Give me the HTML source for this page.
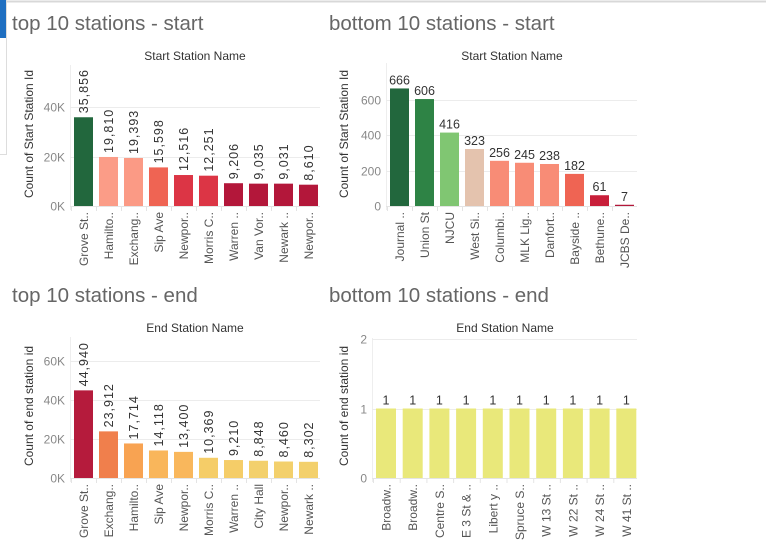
<!DOCTYPE html>
<html><head><meta charset="utf-8">
<style>
html,body{margin:0;padding:0;background:#fff;}
svg{display:block;font-family:"Liberation Sans","DejaVu Sans",sans-serif;}
</style></head>
<body>
<svg id="root" width="766" height="555" viewBox="0 0 766 555">
  <rect x="0" y="0" width="766" height="555" fill="#fff"/>
  <line x1="0" y1="1.5" x2="766" y2="1.5" stroke="#d8d8d8" stroke-width="2"/>
  <rect x="0" y="0" width="6" height="38" fill="#1f6fc1"/>
  <line x1="6.5" y1="0" x2="6.5" y2="154" stroke="#ddd"/>
  <line x1="0" y1="154.5" x2="7" y2="154.5" stroke="#ddd"/>
  <text x="12" y="30" font-size="20.5" fill="#666">top 10 stations - start</text>
  <text x="329" y="30" font-size="20.5" fill="#666">bottom 10 stations - start</text>
  <text x="12" y="302" font-size="20.5" fill="#666">top 10 stations - end</text>
  <text x="329" y="302" font-size="20.5" fill="#666">bottom 10 stations - end</text>
</svg>
<script>
// Chart 1: top 10 start
const c1Categories = ["Grove St..","Hamilto..","Exchang..","Sip Ave","Newpor..","Morris C..","Warren ..","Van Vor..","Newark ..","Newpor.."];
const c1Values = [35856,19810,19393,15598,12516,12251,9206,9035,9031,8610];
const c1Colors = ["#22673d","#fb9c87","#fb9a85","#ef6453","#dc3545","#dc3545","#b3173a","#b3173a","#b3173a","#b3173a"];
const c1Ticks = [0,20000,40000];
const c1TickLabels = ["0K","20K","40K"];
// Chart 2: bottom 10 start
const c2Categories = ["Journal ..","Union St","NJCU","West Si..","Columbi..","MLK Lig..","Danfort..","Bayside ..","Bethune..","JCBS De.."];
const c2Values = [666,606,416,323,256,245,238,182,61,7];
const c2Colors = ["#22673d","#2e8345","#80c672","#e4c3ae","#f88c76","#f88c76","#f88c76","#ef6453","#c81f3a","#b3173a"];
const c2Ticks = [0,200,400,600];
const c2TickLabels = ["0","200","400","600"];
// Chart 3: top 10 end
const c3Categories = ["Grove St..","Exchang..","Hamilto..","Sip Ave","Newpor..","Morris C..","Warren ..","City Hall","Newpor..","Newark .."];
const c3Values = [44940,23912,17714,14118,13400,10369,9210,8848,8460,8302];
const c3Colors = ["#b51b3c","#f07f4c","#f8a352","#f9b65b","#f9b75c","#f5cd68","#f5cd68","#f3d06c","#f3d06c","#f3d06c"];
const c3Ticks = [0,20000,40000,60000];
const c3TickLabels = ["0K","20K","40K","60K"];
// Chart 4: bottom 10 end
const c4Categories = ["Broadw..","Broadw..","Centre S..","E 3 St & ..","Libert y ..","Spruce S..","W 13 St ..","W 22 St ..","W 24 St ..","W 41 St .."];
const c4Values = [1,1,1,1,1,1,1,1,1,1];
const c4Colors = ["#e9e87a","#e9e87a","#e9e87a","#e9e87a","#e9e87a","#e9e87a","#e9e87a","#e9e87a","#e9e87a","#e9e87a"];
const c4Ticks = [0,1,2];
const c4TickLabels = ["0","1","2"];

const NS = "http://www.w3.org/2000/svg";
const root = document.getElementById('root');
function mk(tag, attrs, parent){
  const e = document.createElementNS(NS, tag);
  for (const k in attrs) e.setAttribute(k, attrs[k]);
  (parent||root).appendChild(e);
  return e;
}
function fmt(v){ return v.toLocaleString('en-US'); }

function drawChart(cfg, cats, vals, cols, ticks, tickLabels){
  const g = mk('g', {});
  
  
  const y = v => cfg.zero - (v - 0) * cfg.pxPerUnit;
  const x = i => cfg.barX0 + i * cfg.step;
  const st = mk('text', {x: cfg.subX, y: cfg.subY, 'font-size': 12, fill: '#333', 'text-anchor': 'middle'}, g);
  st.textContent = cfg.subtitle;
  
  
  const yt = mk('text', {x: 0, y: 0, 'font-size': 12, fill: '#333', 'text-anchor': 'middle', transform: `translate(${cfg.yTitleX},${cfg.yTitleY}) rotate(-90)`}, g);
  yt.textContent = cfg.yTitle;
  
  
  mk('line', {x1: cfg.left + 0.5, y1: cfg.top, x2: cfg.left + 0.5, y2: cfg.zero + 4, stroke: '#eee'}, g);
  ticks.forEach((t, i) => {
    const yy = Math.round(y(t)) + 0.5;
    if (t !== 0) mk('line', {x1: cfg.left, y1: yy, x2: cfg.right, y2: yy, stroke: '#ececec'}, g);
    const tl = mk('text', {x: cfg.left - 5, y: yy + 4, 'font-size': 12, fill: '#888', 'text-anchor': 'end'}, g);
    tl.textContent = tickLabels[i];
    
    
  });
  mk('line', {x1: cfg.left, y1: cfg.zero + 0.5, x2: cfg.right, y2: cfg.zero + 0.5, stroke: '#e4e4e4'}, g);
  vals.forEach((v, i) => {
    const bx = x(i), by = y(v);
    const r = mk('rect', {x: bx, y: by, width: cfg.barW, height: cfg.zero - by, fill: cols[i]}, g);
    
    
    const cx = bx + cfg.barW / 2;
    let vl;
    if (cfg.rotValues) {
      vl = mk('text', {x: 0, y: 0, 'font-size': 12.5, fill: '#333', 'text-anchor': 'start', transform: `translate(${cx + 4.5},${by - 4}) rotate(-90)`, 'letter-spacing': '1'}, g);
    } else {
      vl = mk('text', {x: cx, y: by - 4, 'font-size': 12.5, fill: '#333', 'text-anchor': 'middle'}, g);
    }
    vl.textContent = fmt(v);
    
    
    mk('line', {x1: bx - 3 + 0.5, y1: cfg.zero, x2: bx - 3 + 0.5, y2: cfg.zero + 5, stroke: '#e4e4e4'}, g);
    const cl = mk('text', {x: 0, y: 0, 'font-size': 12, fill: '#555', 'text-anchor': 'end', transform: `translate(${cx + 4.5},${cfg.zero + 6}) rotate(-90)`}, g);
    cl.textContent = cats[i];
    
    
  });
}

drawChart({name:'chart-top-start', subtitle:'Start Station Name', subX:195, subY:60, yTitle:'Count of Start Station Id', yTitleX:33, yTitleY:134,
  left:70, right:320, top:65, zero:206, pxPerUnit:49.5/20000, barX0:74, step:25, barW:19, rotValues:true},
  c1Categories, c1Values, c1Colors, c1Ticks, c1TickLabels);
drawChart({name:'chart-bottom-start', subtitle:'Start Station Name', subX:512, subY:60, yTitle:'Count of Start Station Id', yTitleX:348, yTitleY:134,
  left:386, right:637, top:63, zero:206, pxPerUnit:35.3/200, barX0:390, step:25, barW:19, rotValues:false},
  c2Categories, c2Values, c2Colors, c2Ticks, c2TickLabels);
drawChart({name:'chart-top-end', subtitle:'End Station Name', subX:195, subY:332, yTitle:'Count of end station id', yTitleX:33, yTitleY:406,
  left:70, right:320, top:337, zero:478, pxPerUnit:39/20000, barX0:74, step:25, barW:19, rotValues:true},
  c3Categories, c3Values, c3Colors, c3Ticks, c3TickLabels);
drawChart({name:'chart-bottom-end', subtitle:'End Station Name', subX:505, subY:332, yTitle:'Count of end station id', yTitleX:348, yTitleY:406,
  left:372, right:637, top:338, zero:478, pxPerUnit:69.5, barX0:376, step:26.7, barW:20, rotValues:false},
  c4Categories, c4Values, c4Colors, c4Ticks, c4TickLabels);
</script>
</body></html>
